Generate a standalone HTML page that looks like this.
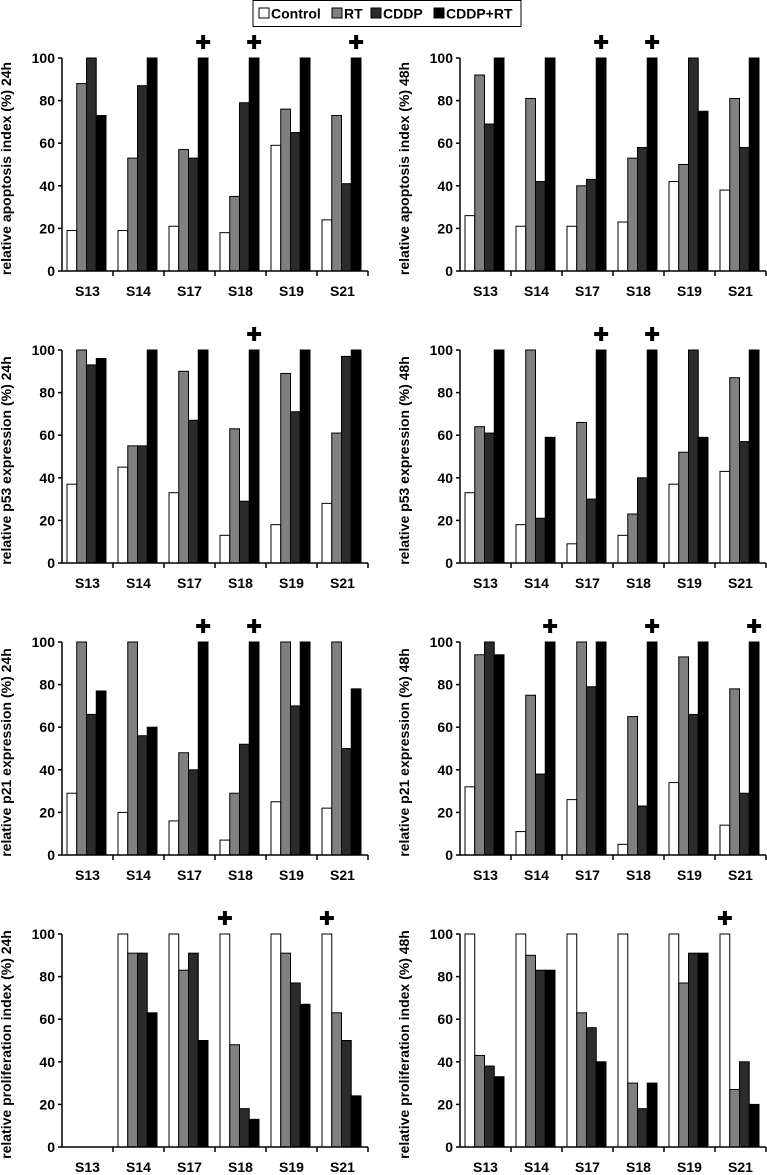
<!DOCTYPE html>
<html><head><meta charset="utf-8"><style>
body{margin:0;background:#fff}
svg{display:block;font-family:"Liberation Sans",Arial,sans-serif;font-weight:bold}
</style></head><body>
<svg id="c" width="767" height="1175" viewBox="0 0 767 1175"></svg>
<script>
const categories=["S13","S14","S17","S18","S19","S21"];
const seriesNames=["Control","RT","CDDP","CDDP+RT"];
const yTicks=[0,20,40,60,80,100];
const titles=["relative apoptosis index (%) 24h","relative apoptosis index (%) 48h","relative p53 expression (%) 24h","relative p53 expression (%) 48h","relative p21 expression (%) 24h","relative p21 expression (%) 48h","relative proliferation index (%) 24h","relative proliferation index (%) 48h"];
const apo24=[[19,88,100,73],[19,53,87,100],[21,57,53,100],[18,35,79,100],[59,76,65,100],[24,73,41,100]];
const apo48=[[26,92,69,100],[21,81,42,100],[21,40,43,100],[23,53,58,100],[42,50,100,75],[38,81,58,100]];
const p53_24=[[37,100,93,96],[45,55,55,100],[33,90,67,100],[13,63,29,100],[18,89,71,100],[28,61,97,100]];
const p53_48=[[33,64,61,100],[18,100,21,59],[9,66,30,100],[13,23,40,100],[37,52,100,59],[43,87,57,100]];
const p21_24=[[29,100,66,77],[20,100,56,60],[16,48,40,100],[7,29,52,100],[25,100,70,100],[22,100,50,78]];
const p21_48=[[32,94,100,94],[11,75,38,100],[26,100,79,100],[5,65,23,100],[34,93,66,100],[14,78,29,100]];
const pro24=[[0,0,0,0],[100,91,91,63],[100,83,91,50],[100,48,18,13],[100,91,77,67],[100,63,50,24]];
const pro48=[[100,43,38,33],[100,90,83,83],[100,63,56,40],[100,30,18,30],[100,77,91,91],[100,27,40,20]];
// significance markers: [categoryIndex, seriesIndex]
const marks24a=[[2,3],[3,3],[5,3]], marks48a=[[2,3],[3,3]];
const marks24b=[[3,3]], marks48b=[[2,3],[3,3]];
const marks24c=[[2,3],[3,3]], marks48c=[[1,3],[3,3],[5,3]];
const marks24d=[[3,0],[5,0]], marks48d=[[5,0]];
const panels=[[apo24,marks24a],[apo48,marks48a],[p53_24,marks24b],[p53_48,marks48b],[p21_24,marks24c],[p21_48,marks48c],[pro24,marks24d],[pro48,marks48d]];
const fills=["#ffffff","#808080","#2b2b2b","#000000"];
const NS="http://www.w3.org/2000/svg";
const svg=document.getElementById('c');
function mk(t,a,p){const e=document.createElementNS(NS,t);for(const k in a)e.setAttribute(k,a[k]);(p||svg).appendChild(e);return e;}
panels.forEach((pd,pi)=>{
  const col=pi%2,row=Math.floor(pi/2);
  const x0=col?460:62, top=58+row*292, bot=top+213, cw=51;
  const g=mk('g',{});
  
  
  const y=v=>bot-(v/100)*(bot-top);
  const x=i=>x0+i*cw;
  pd[0].forEach((vals,ci)=>{vals.forEach((v,si)=>{if(v<=0)return;
    const r=mk('rect',{x:x(ci)+5+si*9.75,y:y(v),width:9.75,height:bot-y(v),fill:fills[si],stroke:'#000','stroke-width':1},g);
    
    });});
  const ax=mk('path',{d:`M${x0} ${top} V${bot} H${x(6)}`,stroke:'#000','stroke-width':1.5,fill:'none'},g);
  
  
  yTicks.forEach(t=>{mk('line',{x1:x0-4,x2:x0,y1:y(t),y2:y(t),stroke:'#000','stroke-width':1.5},g);
    const tl=mk('text',{x:x0-7,y:y(t)+5,'text-anchor':'end','font-size':14},g);tl.textContent=t;
    
    });
  for(let i=1;i<=6;i++)mk('line',{x1:x(i),x2:x(i),y1:bot,y2:bot+5,stroke:'#000','stroke-width':1.5},g);
  categories.forEach((c,ci)=>{const t=mk('text',{x:x(ci)+cw/2,y:bot+25,'text-anchor':'middle','font-size':14},g);t.textContent=c;
    
    });
  const yt=mk('text',{transform:`translate(${x0-51},${(top+bot)/2+4}) rotate(-90)`,'text-anchor':'middle','font-size':14},g);
  yt.textContent=titles[pi];
  
  
  pd[1].forEach(m=>{const cx=x(m[0])+5+m[1]*9.75+4.9, cy=top-16;
    const p=mk('path',{d:`M${cx-7} ${cy} H${cx+7} M${cx} ${cy-7} V${cy+7}`,stroke:'#000','stroke-width':4},g);
    
    });
});
const lg=mk('g',{});


mk('rect',{x:253,y:0.5,width:268,height:26,fill:'#fff',stroke:'#000','stroke-width':1},lg);
const lx=[259,332,371,434];
seriesNames.forEach((n,i)=>{mk('rect',{x:lx[i],y:8,width:10,height:10,fill:fills[i],stroke:'#000'},lg);
  const t=mk('text',{x:lx[i]+12,y:18.5,'font-size':14},lg);t.textContent=n;
  
  });
</script>
</body></html>
